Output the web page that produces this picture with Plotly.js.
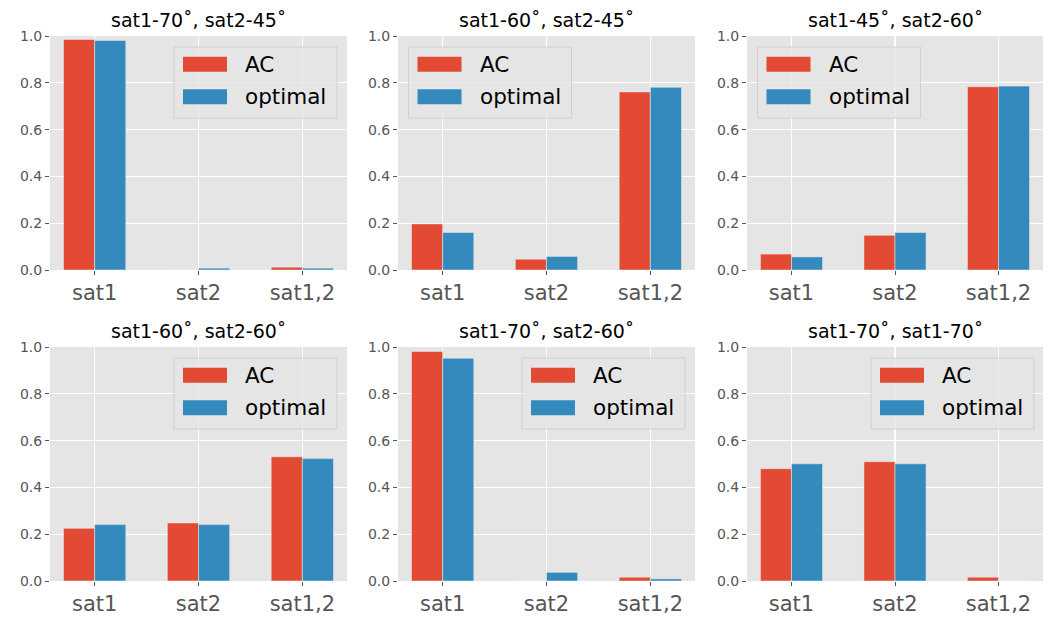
<!DOCTYPE html>
<html>
<head>
<meta charset="utf-8">
<script src="https://cdn.plot.ly/plotly-3.0.1.min.js"></script>
<style>html,body{margin:0;padding:0;background:#fff;}#chart{width:1051px;height:617px;}</style>
</head>
<body>
<div id="chart"></div>
<script>
// ---- data ----
const categories = ['sat1', 'sat2', 'sat1,2'];
const titles = ['sat1-70˚, sat2-45˚', 'sat1-60˚, sat2-45˚', 'sat1-45˚, sat2-60˚',
                'sat1-60˚, sat2-60˚', 'sat1-70˚, sat2-60˚', 'sat1-70˚, sat1-70˚'];
const seriesNames = ['AC', 'optimal'];
const ac1 = [0.985, 0.0, 0.012];   const opt1 = [0.981, 0.008, 0.008];
const ac2 = [0.197, 0.046, 0.761]; const opt2 = [0.160, 0.058, 0.781];
const ac3 = [0.068, 0.148, 0.783]; const opt3 = [0.056, 0.160, 0.786];
const ac4 = [0.225, 0.248, 0.531]; const opt4 = [0.241, 0.241, 0.523];
const ac5 = [0.981, 0.0, 0.016];   const opt5 = [0.952, 0.037, 0.009];
const ac6 = [0.480, 0.510, 0.016]; const opt6 = [0.501, 0.501, 0.0];
const acSeries = [ac1, ac2, ac3, ac4, ac5, ac6];
const optSeries = [opt1, opt2, opt3, opt4, opt5, opt6];
const legendSide = ['right', 'left', 'left', 'right', 'right', 'right'];

// ---- style ----
const W = 1051, H = 617;
const colX = [[50, 347], [398, 695], [747, 1043]];
const rowY = [[36, 270], [347, 581]];
const colors = ['#E24A33', '#348ABD'];
const font = 'DejaVu Sans, Verdana, sans-serif';
const xpos = categories.map((c, i) => i);

const traces = [];
const layout = {
  width: W, height: H,
  margin: {l: 0, r: 0, t: 0, b: 0},
  paper_bgcolor: '#ffffff',
  plot_bgcolor: '#E5E5E5',
  showlegend: false,
  barmode: 'overlay',
  font: {family: font, color: '#555555'},
  shapes: [], annotations: []
};

for (let k = 0; k < 6; k++) {
  const r = Math.floor(k / 3), c = k % 3;
  const sfx = k === 0 ? '' : String(k + 1);
  const xa = 'x' + sfx, ya = 'y' + sfx;
  const [x0, x1] = colX[c], [y0, y1] = rowY[r];
  const pw = x1 - x0, ph = y1 - y0;
  [acSeries[k], optSeries[k]].forEach((vals, s) => {
    traces.push({
      type: 'bar', x: xpos, y: vals, name: seriesNames[s],
      width: 0.3, offset: s === 0 ? -0.3 : 0,
      marker: {color: colors[s], line: {color: '#EEEEEE', width: 0.5}},
      xaxis: xa, yaxis: ya, showlegend: false, hoverinfo: 'y'
    });
  });
  layout['xaxis' + sfx] = {
    domain: [x0 / W, x1 / W], anchor: ya,
    range: [-0.43, 2.43], tickvals: xpos, ticktext: categories,
    showgrid: true, gridcolor: '#ffffff', gridwidth: 1.1, zeroline: false,
    ticks: 'outside', ticklen: 4, tickwidth: 1, tickcolor: '#555555',
    tickfont: {family: font, size: 21, color: '#555555'}, showline: false,
    fixedrange: true
  };
  layout['yaxis' + sfx] = {
    domain: [(H - y1) / H, (H - y0) / H], anchor: xa,
    range: [0, 1], tickvals: [0, 0.2, 0.4, 0.6, 0.8, 1.0], tickformat: '.1f',
    showgrid: true, gridcolor: '#ffffff', gridwidth: 1.1, zeroline: false,
    ticks: 'outside', ticklen: 4, tickwidth: 1, tickcolor: '#555555',
    tickfont: {family: font, size: 14, color: '#555555'}, showline: false,
    fixedrange: true
  };
  // title
  layout.annotations.push({
    xref: xa + ' domain', yref: ya + ' domain', x: 0.5, y: 1,
    xanchor: 'center', yanchor: 'bottom', yshift: 3, showarrow: false,
    text: titles[k], font: {family: font, size: 19, color: '#000000'}
  });
  // legend box (drawn)
  const bl = legendSide[k] === 'right' ? 124 : 10.5;
  const bw = 163, bt = 11, bh = 71;
  const dx = p => p / pw, dy = p => 1 - p / ph;
  layout.shapes.push({
    type: 'rect', xref: xa + ' domain', yref: ya + ' domain', layer: 'above',
    x0: dx(bl), x1: dx(bl + bw), y0: dy(bt + bh), y1: dy(bt),
    fillcolor: 'rgba(229,229,229,0.8)', line: {color: 'rgba(204,204,204,0.8)', width: 1}
  });
  const rowsTop = [9.7, 42.3];
  seriesNames.forEach((nm, s) => {
    const pt = bt + rowsTop[s];
    layout.shapes.push({
      type: 'rect', xref: xa + ' domain', yref: ya + ' domain', layer: 'above',
      x0: dx(bl + 9), x1: dx(bl + 53), y0: dy(pt + 15), y1: dy(pt),
      fillcolor: colors[s], line: {width: 0}
    });
    layout.annotations.push({
      xref: xa + ' domain', yref: ya + ' domain', x: dx(bl + 69), y: dy(pt + 7.5),
      xanchor: 'left', yanchor: 'middle', showarrow: false,
      text: nm, font: {family: font, size: 21.5, color: '#000000'}
    });
  });
}

Plotly.newPlot('chart', traces, layout, {displayModeBar: false, staticPlot: true});
</script>
</body>
</html>
